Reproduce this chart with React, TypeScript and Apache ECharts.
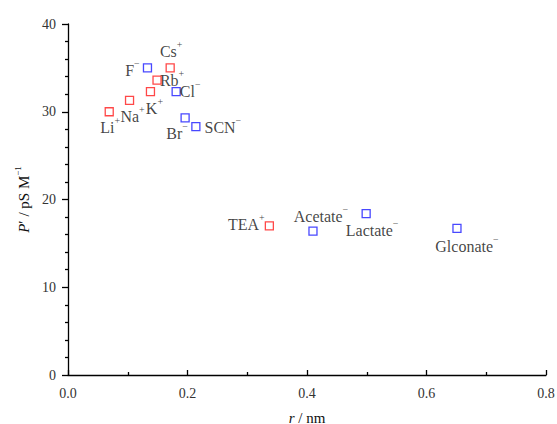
import React, { useEffect, useRef } from "react";
import * as echarts from "echarts";

// ---- data ----
const cationNames = ["Li", "Na", "K", "Rb", "Cs", "TEA"];
const cationR = [0.069, 0.103, 0.138, 0.149, 0.171, 0.337];
const cationP = [30.0, 31.3, 32.3, 33.6, 35.0, 17.0];

const anionNames = ["F", "Cl", "Br", "SCN", "Acetate", "Lactate", "Glconate"];
const anionR = [0.133, 0.181, 0.196, 0.214, 0.41, 0.499, 0.651];
const anionP = [35.0, 32.3, 29.3, 28.3, 16.4, 18.4, 16.7];

const xTickLabels = ["0.0", "0.2", "0.4", "0.6", "0.8"];
const yTickLabels = ["0", "10", "20", "30", "40"];

// ---- label placement (style only) ----
const labelOffsets: Record<string, [number, number]> = {
  Li: [1, 16],
  Na: [3, 16],
  K: [4, 17],
  Rb: [15, 0],
  Cs: [1, -16],
  TEA: [-23, -1],
  F: [-15, 3],
  Cl: [14, 0],
  Br: [-8, 16],
  SCN: [27, 1],
  Acetate: [8, -15],
  Lactate: [6, 17],
  Glconate: [10, 18],
};

const SERIF = "Liberation Serif";

const rich = {
  m: { fontFamily: SERIF, fontSize: 16, color: "#111" },
  s: { fontFamily: SERIF, fontSize: 10, color: "#111", padding: [0, 0, 14, 0] },
};

const tickRich = {
  t: { fontFamily: SERIF, fontSize: 14, color: "#333" },
};

function buildData(names: string[], rs: number[], ps: number[], sign: string) {
  return names.map((n, i) => {
    const off = labelOffsets[n] || [0, 0];
    return {
      name: n,
      value: [rs[i], ps[i]],
      label: {
        show: true,
        position: "inside",
        align: "center",
        verticalAlign: "middle",
        offset: off,
        formatter: () => `{m|${n}}{s|${sign}}`,
        rich,
      },
    };
  });
}

export default function App() {
  const ref = useRef<HTMLDivElement>(null);

  useEffect(() => {
    document.body.style.margin = "0";
    if (!ref.current) return;
    const chart = echarts.init(ref.current, null, { renderer: "svg" });
    chart.setOption({
      animation: false,
      backgroundColor: "#fff",
      textStyle: { fontFamily: SERIF },
      grid: {
        left: 68,
        right: 11,
        top: 24,
        bottom: 49,
        containLabel: false,
        outerBoundsMode: "none",
      },
      xAxis: {
        type: "value",
        min: 0,
        max: 0.8,
        interval: 0.2,
        name: "{i|r}{n| / nm}",
        nameLocation: "middle",
        nameGap: 35,
        nameTextStyle: {
          fontFamily: SERIF,
          fontSize: 15,
          color: "#111",
          rich: {
            i: { fontFamily: SERIF, fontSize: 15, fontStyle: "italic", color: "#111" },
            n: { fontFamily: SERIF, fontSize: 15, color: "#111" },
          },
        },
        axisLine: { show: true, onZero: false, lineStyle: { color: "#000", width: 1.3 } },
        axisTick: { show: true, inside: true, length: 5, lineStyle: { color: "#000", width: 1.3 } },
        minorTick: { show: true, splitNumber: 2, length: 3, lineStyle: { color: "#000", width: 1.3 } },
        splitLine: { show: false },
        minorSplitLine: { show: false },
        axisLabel: {
          fontFamily: SERIF,
          fontSize: 14,
          color: "#333",
          margin: 11,
          rich: tickRich,
          formatter: (v: number) => `{t|${xTickLabels[Math.round(v / 0.2)] ?? ""}}`,
        },
      },
      yAxis: {
        type: "value",
        min: 0,
        max: 40,
        interval: 10,
        name: "{i|P}{n|′ / pS M}{s|−1}",
        nameLocation: "middle",
        nameGap: 31,
        nameRotate: 90,
        nameTextStyle: {
          fontFamily: SERIF,
          fontSize: 15,
          color: "#111",
          rich: {
            i: { fontFamily: SERIF, fontSize: 15, fontStyle: "italic", color: "#111" },
            n: { fontFamily: SERIF, fontSize: 15, color: "#111" },
            s: { fontFamily: SERIF, fontSize: 9, color: "#111", padding: [0, 0, 12, 0] },
          },
        },
        axisLine: { show: true, onZero: false, lineStyle: { color: "#000", width: 1.3 } },
        axisTick: { show: true, inside: false, length: 6, lineStyle: { color: "#000", width: 1.3 } },
        minorTick: { show: true, splitNumber: 5, length: 3, lineStyle: { color: "#000", width: 1.3 } },
        splitLine: { show: false },
        minorSplitLine: { show: false },
        axisLabel: {
          fontFamily: SERIF,
          fontSize: 14,
          color: "#333",
          margin: 12,
          rich: tickRich,
          formatter: (v: number) => `{t|${yTickLabels[Math.round(v / 10)] ?? ""}}`,
        },
      },
      series: [
        {
          name: "cations",
          type: "scatter",
          symbol: "rect",
          symbolSize: 8,
          itemStyle: { color: "rgba(0,0,0,0)", borderColor: "#ff1a1a", borderWidth: 1.3 },
          data: buildData(cationNames, cationR, cationP, "+"),
          z: 3,
        },
        {
          name: "anions",
          type: "scatter",
          symbol: "rect",
          symbolSize: 8,
          itemStyle: { color: "rgba(0,0,0,0)", borderColor: "#1a1aff", borderWidth: 1.3 },
          data: buildData(anionNames, anionR, anionP, "−"),
          z: 3,
        },
      ],
    });
    return () => chart.dispose();
  }, []);

  return <div ref={ref} style={{ width: 557, height: 424 }} />;
}
